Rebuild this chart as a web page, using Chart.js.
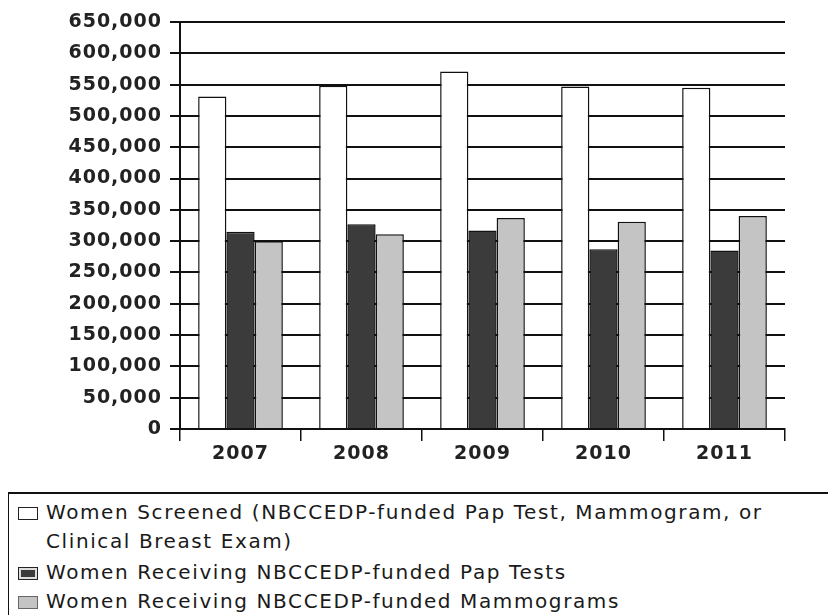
<!DOCTYPE html>
<html>
<head>
<meta charset="utf-8">
<script src="https://cdn.jsdelivr.net/npm/chart.js@4"></script>
<style>
  html, body { margin: 0; padding: 0; background: #fff; }
  #wrap { position: relative; width: 828px; height: 615px; overflow: hidden; }
  #c { position: absolute; left: 0; top: 0; }
  #legend {
    position: absolute; left: 8px; top: 492px; width: 840px; height: 140px;
    border-top: 2px solid #111; border-left: 1.5px solid #111;
    font-family: "DejaVu Sans", sans-serif; font-size: 20px; letter-spacing: 1.6px; color: #1a1a1a;
  }
  .item { position: absolute; left: 0; white-space: nowrap; }
  .box { position: absolute; left: 9px; width: 20px; height: 13px; border: 1.5px solid #222; box-sizing: border-box; }
  .txt { position: absolute; left: 37px; line-height: 29px; }
</style>
</head>
<body>
<div id="wrap">
  <canvas id="c" width="828" height="480"></canvas>
  <div id="legend"></div>
</div>
<script>
const categories = ["2007", "2008", "2009", "2010", "2011"];
const seriesNames = [
  ["Women Screened (NBCCEDP-funded Pap Test, Mammogram, or", "Clinical Breast Exam)"],
  ["Women Receiving NBCCEDP-funded Pap Tests"],
  ["Women Receiving NBCCEDP-funded Mammograms"]
];
const womenScreened = [531000, 548000, 571000, 547000, 545000];
const papTests = [315000, 327000, 317000, 287000, 285000];
const mammograms = [300000, 311000, 337000, 331000, 340000];
const yTicks = [0, 50000, 100000, 150000, 200000, 250000, 300000, 350000, 400000, 450000, 500000, 550000, 600000, 650000];

const fills = ["#ffffff", "#3b3b3b", "#c4c4c4"];
const seriesValues = [womenScreened, papTests, mammograms];

const tickFont = { family: "DejaVu Sans", size: 19, weight: "bold" };

const spacingPlugin = {
  id: "spacing",
  beforeDraw(chart) { chart.ctx.letterSpacing = "1px"; },
  afterDraw(chart) { chart.ctx.letterSpacing = "0px"; }
};

new Chart(document.getElementById("c"), {
  type: "bar",
  data: {
    labels: categories,
    datasets: seriesValues.map((vals, i) => ({
      label: seriesNames[i].join(" "),
      data: vals,
      backgroundColor: fills[i],
      borderColor: "#111",
      borderWidth: 1.5,
      categoryPercentage: 0.7,
      barPercentage: 1.0
    }))
  },
  plugins: [spacingPlugin],
  options: {
    responsive: false,
    animation: false,
    layout: { padding: { top: 22, right: 43, left: 0, bottom: 0 } },
    plugins: { legend: { display: false }, tooltip: { enabled: false } },
    scales: {
      x: {
        offset: true,
        grid: {
          offset: true,
          drawOnChartArea: true,
          color: (ctx) => (ctx.index === categories.length ? "#111" : "rgba(0,0,0,0)"),
          tickColor: "#111",
          lineWidth: 1.5,
          tickLength: 12
        },
        border: { display: true, color: "#111", width: 2 },
        ticks: { font: tickFont, color: "#222", padding: 2, maxRotation: 0 },
        afterFit: (s) => { s.height = 51; }
      },
      y: {
        min: 0,
        max: 650000,
        afterBuildTicks: (s) => { s.ticks = yTicks.map(v => ({ value: v })); },
        grid: { color: "#111", lineWidth: 2, tickLength: 10, tickColor: "#111" },
        border: { display: true, color: "#111", width: 2 },
        ticks: {
          font: tickFont, color: "#222", padding: 8,
          callback: (v) => Number(v).toLocaleString("en-US")
        },
        afterFit: (s) => { s.width = 180; }
      }
    }
  }
});

// HTML legend
const legend = document.getElementById("legend");
const rowTops = [4, 33, 64, 93];
let row = 0;
seriesNames.forEach((lines, i) => {
  const item = document.createElement("div");
  item.className = "item";
  item.style.top = rowTops[row] + "px";
  const box = document.createElement("div");
  box.className = "box";
  box.style.top = "9px";
  box.style.background = fills[i];
  if (i === 1) box.style.boxShadow = "inset 0 0 0 2px #ddd";
  if (i === 2) box.style.borderColor = "#666";
  item.appendChild(box);
  const txt = document.createElement("div");
  txt.className = "txt";
  txt.innerHTML = lines.join("<br>");
  item.appendChild(txt);
  legend.appendChild(item);
  row += lines.length;
});
</script>
</body>
</html>
